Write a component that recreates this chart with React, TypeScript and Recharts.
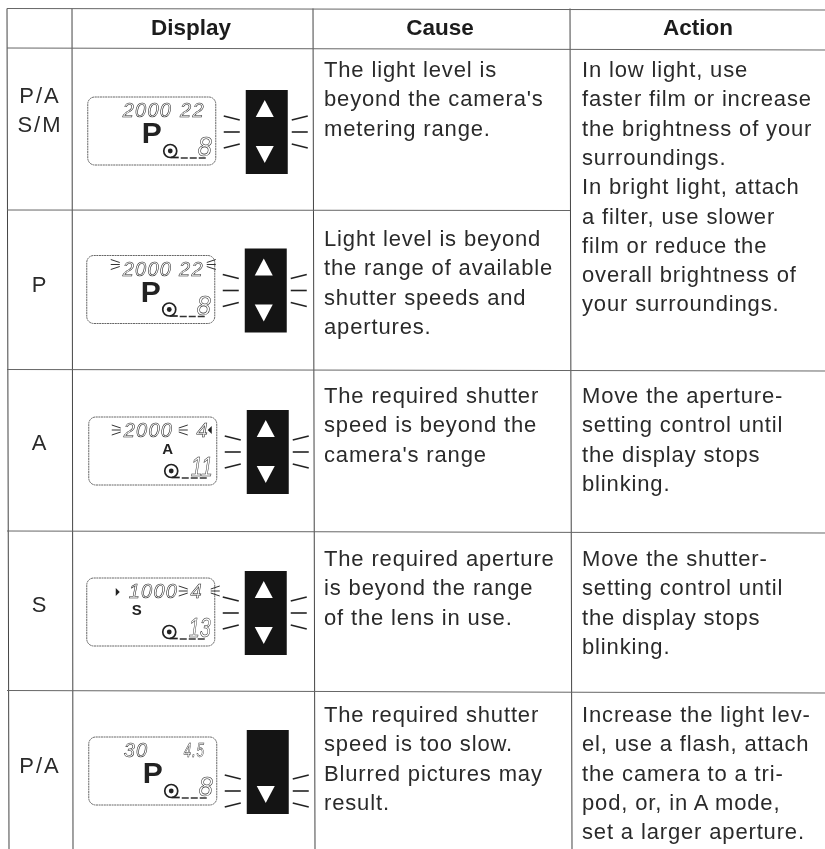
import { ScatterChart, Scatter, XAxis, YAxis, ReferenceLine } from 'recharts';

const WIDTH = 825;
const HEIGHT = 849;

const headers = ['Display', 'Cause', 'Action'];
const modes = [['P/A', 'S/M'], ['P'], ['A'], ['S'], ['P/A']];
const causes = [
  ['The light level is', "beyond the camera's", 'metering range.'],
  ['Light level is beyond', 'the range of available', 'shutter speeds and', 'apertures.'],
  ['The required shutter', 'speed is beyond the', "camera's range"],
  ['The required aperture', 'is beyond the range', 'of the lens in use.'],
  ['The required shutter', 'speed is too slow.', 'Blurred pictures may', 'result.'],
];
// first action cell spans the first two rows
const actions = [
  ['In low light, use', 'faster film or increase', 'the brightness of your', 'surroundings.', 'In bright light, attach', 'a filter, use slower', 'film or reduce the', 'overall brightness of', 'your surroundings.'],
  [],
  ['Move the aperture-', 'setting control until', 'the display stops', 'blinking.'],
  ['Move the shutter-', 'setting control until', 'the display stops', 'blinking.'],
  ['Increase the light lev-', 'el, use a flash, attach', 'the camera to a tri-', 'pod, or, in A mode,', 'set a larger aperture.'],
];

const shutterValues = ['2000', '2000', '2000', '1000', '30'];
const apertureValues = ['22', '22', '4', '4', '4.5'];
const modeGlyphs = ['P', 'P', 'A', 'S', 'P'];
const frameValues = ['8', '8', '11', '13', '8'];
const showUpArrow = [true, true, true, true, false];

// table layout, in page pixels (the scan is very slightly skewed)
const colTop = [7, 72, 313, 570];
const colBottom = [9, 73, 315, 572];
const rowLeft = [8.5, 48, 210, 369.5, 531, 690.5];
const rowRight = [10, 50, 211, 371, 533, 693];
const rowEdges = [48, 210, 370, 531, 691, 849];
const bodyInset = [29, 36, 33, 35, 31];
const modeInset = [55, 82, 80, 81, 82];
const displayDx = [-41.5, -42.5, -40.5, -42.5, -40.5];
const displayDy = [2, -0.5, 0.5, 1, 1];
const shutterStart = [-29, -28, -29, -22, -29];
const apertureEnd = [53, 53, 56, 52, 52];
const LINE_HEIGHT = 29.3;

// blink marks on the LCD: [x offset, y offset, direction]
const lcdTicks: number[][][] = [
  [],
  [[-40, -25, 1], [65, -25, -1]],
  [[-41, -21, 1], [35, -21, -1]],
  [[28, -21, 1], [69, -21, -1]],
  [],
];
// small over/under-range pointers on the LCD: [x offset, y offset, direction]
const lcdPointers: number[][][] = [[], [], [[59, -21, -1]], [[-35, -20, 1]], []];

const FONT = '"Liberation Sans", Arial, sans-serif';
const INK = '#2a2a2a';

const axisX = (a: number) => (colTop[a] + colBottom[a]) / 2;

const headerPoints = headers.map((text, i) => ({
  x: [191, 440, 698][i],
  y: 35,
  text,
}));

const modePoints = modes.flatMap((lines, r) =>
  lines.map((text, i) => ({ x: 40, y: rowEdges[r] + modeInset[r] + i * 29, text })),
);

const bodyPoints = [
  ...causes.flatMap((lines, r) =>
    lines.map((text, i) => ({ x: axisX(2) + 10, y: rowEdges[r] + bodyInset[r] + i * LINE_HEIGHT, text })),
  ),
  ...actions.flatMap((lines, r) =>
    lines.map((text, i) => ({ x: axisX(3) + 11, y: rowEdges[r] + bodyInset[r] + i * LINE_HEIGHT, text })),
  ),
];

const displayPoints = shutterValues.map((shutter, r) => ({
  x: (axisX(1) + axisX(2)) / 2 + displayDx[r],
  y: (rowEdges[r] + rowEdges[r + 1]) / 2 + displayDy[r],
  shutter,
  aperture: apertureValues[r],
  mode: modeGlyphs[r],
  frame: frameValues[r],
  up: showUpArrow[r],
  ticks: lcdTicks[r],
  pointers: lcdPointers[r],
  shutterStart: shutterStart[r],
  apertureEnd: apertureEnd[r],
}));

const HeaderText = ({ cx, cy, payload }: any) => (
  <text x={cx} y={cy} textAnchor="middle" fontFamily={FONT} fontWeight="bold" fontSize={22.5} fill="#1c1c1c">
    {payload.text}
  </text>
);

const ModeText = ({ cx, cy, payload }: any) => (
  <text x={cx} y={cy} textAnchor="middle" fontFamily={FONT} fontSize={22} letterSpacing={2} fill={INK}>
    {payload.text}
  </text>
);

const BodyText = ({ cx, cy, payload }: any) => (
  <text x={cx} y={cy} fontFamily={FONT} fontSize={22} letterSpacing={0.85} fill={INK}>
    {payload.text}
  </text>
);

const Rays = ({ x, y, dir }: { x: number; y: number; dir: number }) => (
  <g stroke="#333" strokeWidth={1}>
    <line x1={x} y1={y - 5} x2={x + dir * 9} y2={y - 2} />
    <line x1={x} y1={y} x2={x + dir * 9} y2={y} />
    <line x1={x} y1={y + 5} x2={x + dir * 9} y2={y + 2} />
  </g>
);

const ArrowRays = ({ cx, cy, side }: { cx: number; cy: number; side: number }) => {
  const near = cx + side * 26;
  const far = cx + side * 42;
  return (
    <g stroke="#222" strokeWidth={1.6}>
      <line x1={near} y1={cy - 12} x2={far} y2={cy - 16} />
      <line x1={near} y1={cy} x2={far} y2={cy} />
      <line x1={near} y1={cy + 12} x2={far} y2={cy + 16} />
    </g>
  );
};

const CameraDisplay = ({ cx, cy, payload }: any) => {
  const large = payload.mode === 'P';
  const blockX = cx + 115;
  const blockY = cy + 1;
  const lcdDigits = { fontFamily: FONT, fontStyle: 'italic', fill: '#fff', stroke: '#222', strokeWidth: 0.55 };
  const narrowAperture = payload.aperture.includes('.') ? { textLength: 21, lengthAdjust: 'spacingAndGlyphs' } : {};
  const frameFit = { textLength: payload.frame.length > 1 ? 22 : 14, lengthAdjust: 'spacingAndGlyphs' };
  return (
    <g>
      <rect x={cx - 64} y={cy - 34} width={128} height={68} rx={7} fill="#fff" stroke="#666" strokeWidth={1} strokeDasharray="2 0.6" />
      <text x={cx + payload.shutterStart} y={cy - 14} fontSize={20} letterSpacing={1.2} {...lcdDigits}>
        {payload.shutter}
      </text>
      <text x={cx + payload.apertureEnd} y={cy - 14} textAnchor="end" fontSize={20} letterSpacing={1.2} {...narrowAperture} {...lcdDigits}>
        {payload.aperture}
      </text>
      {payload.ticks.map((t: number[], i: number) => (
        <Rays key={i} x={cx + t[0]} y={cy + t[1]} dir={t[2]} />
      ))}
      {payload.pointers.map((p: number[], i: number) => (
        <polygon
          key={i}
          points={`${cx + p[0]},${cy + p[1] - 4} ${cx + p[0]},${cy + p[1] + 4} ${cx + p[0] + p[2] * 4},${cy + p[1]}`}
          fill="#222"
        />
      ))}
      {large ? (
        <text x={cx - 10} y={cy + 12} fontFamily={FONT} fontWeight="bold" fontSize={30} fill="#222">
          {payload.mode}
        </text>
      ) : (
        <text x={cx + (payload.mode === 'A' ? 15 : -14)} y={cy + 3} textAnchor="middle" fontFamily={FONT} fontWeight="bold" fontSize={15} fill="#222">
          {payload.mode}
        </text>
      )}
      <circle cx={cx + 18.5} cy={cy + 20} r={6.5} fill="#fff" stroke="#222" strokeWidth={1.7} />
      <circle cx={cx + 18.5} cy={cy + 20} r={2.4} fill="#222" />
      <line x1={cx + 19} y1={cy + 26.5} x2={cx + 27} y2={cy + 26.5} stroke="#222" strokeWidth={1.7} />
      <line x1={cx + 29} y1={cy + 27} x2={cx + 55} y2={cy + 27} stroke="#333" strokeWidth={1.4} strokeDasharray="7 2" />
      <text x={cx + 60} y={cy + 25} textAnchor="end" fontSize={27} {...frameFit} {...lcdDigits}>
        {payload.frame}
      </text>

      <rect x={blockX - 21} y={blockY - 42} width={42} height={84} fill="#141414" />
      {payload.up && (
        <polygon
          points={`${blockX - 2},${blockY - 32} ${blockX - 11},${blockY - 15} ${blockX + 7},${blockY - 15}`}
          fill="#fff"
        />
      )}
      <polygon
        points={`${blockX - 11},${blockY + 14} ${blockX + 7},${blockY + 14} ${blockX - 2},${blockY + 31}`}
        fill="#fff"
      />
      <ArrowRays cx={blockX - 1} cy={payload.up ? blockY : blockY + 19} side={-1} />
      <ArrowRays cx={blockX - 1} cy={payload.up ? blockY : blockY + 19} side={1} />
    </g>
  );
};

const App = () => (
  <div style={{ position: 'absolute', left: 0, top: 0, width: WIDTH, height: HEIGHT, background: '#fff', filter: 'grayscale(1)' }}>
    <ScatterChart width={WIDTH} height={HEIGHT} margin={{ top: 0, right: 0, bottom: 0, left: 0 }}>
      <XAxis type="number" dataKey="x" domain={[0, WIDTH]} hide />
      <YAxis type="number" dataKey="y" domain={[0, HEIGHT]} reversed hide />

      {colTop.map((x, i) => (
        <ReferenceLine
          key={`col-${i}`}
          segment={[{ x, y: rowLeft[0] }, { x: colBottom[i], y: HEIGHT }]}
          stroke="#444"
          strokeWidth={1}
        />
      ))}
      {rowLeft.map((y, i) => (
        <ReferenceLine
          key={`row-${i}`}
          // the line under the first row stops at the merged action cell
          segment={[
            { x: colTop[0], y },
            i === 2 ? { x: colTop[3], y: y + 0.5 } : { x: WIDTH, y: rowRight[i] },
          ]}
          stroke="#666"
          strokeWidth={1}
        />
      ))}

      <Scatter data={headerPoints} shape={HeaderText} isAnimationActive={false} />
      <Scatter data={modePoints} shape={ModeText} isAnimationActive={false} />
      <Scatter data={bodyPoints} shape={BodyText} isAnimationActive={false} />
      <Scatter data={displayPoints} shape={CameraDisplay} isAnimationActive={false} />
    </ScatterChart>
  </div>
);

export default App;
